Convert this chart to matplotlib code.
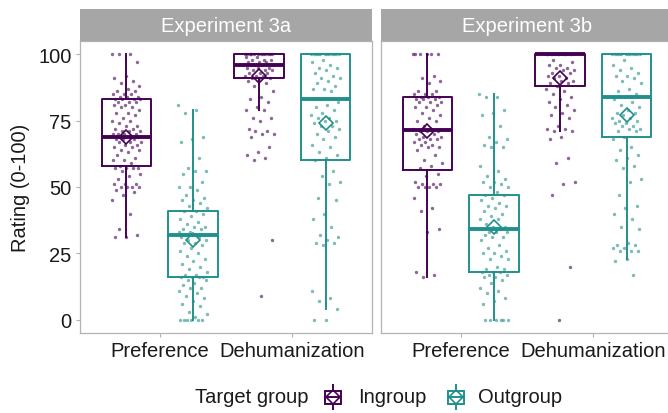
import numpy as np
import matplotlib.pyplot as plt
from matplotlib.patches import Rectangle
from matplotlib.lines import Line2D

plt.rcParams['font.family'] = ['Liberation Sans', 'DejaVu Sans']

experiments = ["Experiment 3a", "Experiment 3b"]
measures = ["Preference", "Dehumanization"]
groups = ["Ingroup", "Outgroup"]
colors = ["#440154", "#21908C"]

# individual ratings, Experiment 3a
pref_in_3a = [100, 100, 100, 97, 92, 91, 90, 89, 88, 87, 86, 86, 85, 85, 85, 84, 84, 84, 83, 83,
              83, 83, 82, 82, 82, 81, 81, 80, 80, 79, 78, 78, 77, 76, 75, 75, 74, 73, 73, 72,
              72, 71, 71, 71, 70, 70, 70, 70, 69, 69, 69, 69, 68, 68, 68, 67, 67, 67, 66, 66,
              65, 65, 64, 64, 63, 62, 61, 60, 60, 59, 58, 57, 57, 57, 57, 56, 55, 54, 53, 51,
              51, 51, 50, 50, 50, 50, 49, 48, 47, 45, 40, 34, 32, 31, 31]
pref_out_3a = [81, 79, 78, 69, 68, 67, 61, 57, 56, 56, 55, 52, 50, 50, 49, 47, 46, 45, 45, 44,
               43, 42, 41, 41, 40, 39, 38, 37, 36, 35, 35, 34, 34, 33, 33, 32, 32, 32, 32, 31,
               31, 30, 30, 29, 29, 28, 27, 26, 25, 24, 23, 22, 21, 20, 19, 18, 17, 17, 16, 16,
               16, 16, 15, 15, 14, 13, 12, 12, 11, 10, 9, 8, 7, 6, 5, 3, 2, 1, 0, 0,
               0, 0, 0, 0]
dehum_in_3a = [100, 100, 100, 100, 100, 100, 100, 100, 100, 100, 100, 100, 99, 99, 98, 98, 98, 97,
               97, 97, 96, 96, 96, 96, 95, 95, 95, 94, 94, 94, 93, 93, 93, 92, 92, 92, 91, 91,
               91, 90, 89, 88, 86, 84, 83, 82, 80, 79, 79, 76, 76, 75, 72, 71, 71, 70, 70, 69,
               65, 63, 62, 61, 60, 30, 9]
dehum_out_3a = [100, 100, 100, 100, 100, 100, 100, 100, 100, 100, 100, 100, 98, 97, 96, 95, 95,
                94, 93, 92, 91, 91, 90, 89, 88, 87, 87, 86, 83, 82, 81, 80, 79, 78, 77, 76, 76,
                75, 75, 74, 73, 73, 72, 71, 70, 69, 68, 66, 65, 63, 62, 61, 60, 56, 54, 52, 51,
                46, 45, 40, 38, 35, 32, 31, 30, 29, 29, 28, 11, 8, 7, 4, 0, 0]

# individual ratings, Experiment 3b
pref_in_3b = [100, 100, 100, 100, 100, 100, 92, 91, 90, 89, 86, 86, 85, 85, 85, 84, 84, 84, 83, 83,
              83, 82, 82, 82, 81, 80, 80, 79, 78, 77, 76, 75, 75, 73, 72, 72, 71, 71, 71, 70,
              70, 69, 69, 68, 68, 68, 67, 67, 66, 66, 65, 65, 64, 62, 60, 59, 58, 57, 55, 54,
              52, 51, 51, 51, 50, 50, 50, 50, 46, 42, 41, 34, 33, 18, 17, 16]
pref_out_3b = [85, 84, 84, 79, 78, 77, 73, 69, 68, 67, 66, 65, 65, 58, 56, 54, 53, 52, 52, 51,
               50, 50, 48, 47, 47, 46, 45, 44, 43, 43, 42, 41, 40, 39, 38, 38, 36, 35, 35, 34,
               34, 33, 33, 33, 32, 31, 31, 30, 28, 27, 26, 25, 25, 24, 23, 23, 20, 19, 19, 18,
               18, 18, 17, 17, 16, 16, 15, 14, 12, 11, 10, 8, 7, 6, 0, 0, 0, 0, 0, 0]
dehum_in_3b = [100, 100, 100, 100, 100, 100, 100, 100, 100, 100, 100, 100, 100, 100, 100, 98, 97,
               96, 96, 95, 95, 94, 94, 93, 93, 92, 92, 91, 91, 90, 90, 89, 89, 88, 87, 86, 85,
               84, 83, 82, 81, 80, 79, 78, 77, 76, 73, 72, 72, 71, 71, 69, 68, 61, 59, 52, 51,
               47, 20, 0]
dehum_out_3b = [100, 100, 100, 100, 100, 100, 100, 100, 100, 100, 100, 100, 98, 96, 95, 94, 93,
                92, 92, 91, 90, 89, 87, 86, 85, 84, 83, 82, 81, 80, 79, 78, 78, 77, 76, 76, 75,
                75, 74, 74, 73, 73, 72, 72, 71, 71, 69, 68, 65, 64, 62, 61, 60, 58, 57, 53, 52,
                47, 43, 42, 40, 38, 35, 34, 29, 28, 28, 27, 27, 26, 26, 26, 23, 22, 17]

points = [
    [pref_in_3a, pref_out_3a, dehum_in_3a, dehum_out_3a],
    [pref_in_3b, pref_out_3b, dehum_in_3b, dehum_out_3b],
]

# box summaries, order: Pref-In, Pref-Out, Dehum-In, Dehum-Out
q1_3a = [58, 16, 91, 60]
med_3a = [69, 32, 96, 83]
q3_3a = [83, 41, 100, 100]
lo_3a = [31, 0, 79, 4]
hi_3a = [100, 79, 100, 100]
mean_3a = [69, 30, 92, 74]

q1_3b = [56.5, 18, 88, 69]
med_3b = [71.5, 34, 100, 84]
q3_3b = [84, 47, 100, 100]
lo_3b = [16, 0, 71, 23]
hi_3b = [100, 85, 100, 100]
mean_3b = [71, 35, 91, 77]

summaries = [
    (q1_3a, med_3a, q3_3a, lo_3a, hi_3a, mean_3a),
    (q1_3b, med_3b, q3_3b, lo_3b, hi_3b, mean_3b),
]


def jitter(n, width=0.11):
    # evenly spread horizontal offsets (golden-ratio sequence)
    return ((np.arange(n) * 0.6180339887) % 1.0 - 0.5) * 2 * width


W, H = 668, 414
fig = plt.figure(figsize=(W / 100, H / 100), dpi=100)
panel_left = [80, 381]
panel_w = 292
panel_top, panel_bot = 42, 334
strip_top = 10

for k, exp in enumerate(experiments):
    ax = fig.add_axes([panel_left[k] / W, 1 - panel_bot / H, panel_w / W, (panel_bot - panel_top) / H])
    q1, med, q3, lo, hi, mn = summaries[k]
    for m in range(2):
        for g in range(2):
            i = m * 2 + g
            c = colors[g]
            pos = m + 1 + (-0.25 if g == 0 else 0.25)
            st = dict(med=med[i], q1=q1[i], q3=q3[i], whislo=lo[i], whishi=hi[i], mean=mn[i])
            vals = np.array(points[k][i], dtype=float)
            ax.scatter(pos + jitter(len(vals)), vals, s=6, color=c, alpha=0.6, lw=0, zorder=2)
            ax.bxp([st], positions=[pos], widths=0.375, showfliers=False, showcaps=False,
                   showmeans=True,
                   boxprops=dict(color=c, lw=1.4),
                   whiskerprops=dict(color=c, lw=1.4),
                   medianprops=dict(color=c, lw=2.8),
                   meanprops=dict(marker='D', markersize=7, markerfacecolor='none',
                                  markeredgecolor=c, markeredgewidth=1.2),
                   zorder=3)
    ax.set_xlim(0.4, 2.6)
    ax.set_ylim(-5, 105)
    ax.set_xticks([1, 2])
    ax.set_xticklabels(measures, fontsize=14.5, color='#1a1a1a')
    ax.set_yticks([0, 25, 50, 75, 100])
    ax.tick_params(axis='both', color='#b3b3b3', length=3, width=0.8, pad=3)
    if k == 0:
        ax.set_yticklabels(['0', '25', '50', '75', '100'], fontsize=14.5, color='#1a1a1a')
    else:
        ax.tick_params(axis='y', left=False, labelleft=False)
    for sp in ax.spines.values():
        sp.set_color('#b3b3b3')
        sp.set_linewidth(0.9)

    # facet strip
    sax = fig.add_axes([panel_left[k] / W, 1 - panel_top / H, panel_w / W, (panel_top - strip_top) / H])
    sax.set_facecolor('#a6a6a6')
    sax.set_xticks([])
    sax.set_yticks([])
    for sp in sax.spines.values():
        sp.set_visible(False)
    sax.text(0.5, 0.47, exp, transform=sax.transAxes, ha='center', va='center',
             color='white', fontsize=14.5)

fig.text(21 / W, 1 - 188 / H, "Rating (0-100)", rotation=90, ha='center', va='center',
         fontsize=14.5, color='#1a1a1a')

# legend drawn along the bottom
leg_y = 1 - 398 / H
fig.text(195 / W, leg_y, "Target group", ha='left', va='center', fontsize=14.5, color='#1a1a1a')
key_x = [324, 447]
text_x = [358, 478]
for g in range(2):
    c = colors[g]
    kax = fig.add_axes([key_x[g] / W, 1 - 411 / H, 18 / W, 26 / H])
    kax.set_xlim(0, 1)
    kax.set_ylim(0, 1)
    kax.axis('off')
    kax.add_patch(Rectangle((0.05, 0.25), 0.9, 0.5, fill=False, edgecolor=c, lw=1.4))
    kax.add_line(Line2D([0.5, 0.5], [0.0, 0.25], color=c, lw=1.4))
    kax.add_line(Line2D([0.5, 0.5], [0.75, 1.0], color=c, lw=1.4))
    kax.add_line(Line2D([0.05, 0.95], [0.5, 0.5], color=c, lw=1.4))
    kax.plot([0.5], [0.5], marker='D', markersize=7, markerfacecolor='none',
             markeredgecolor=c, markeredgewidth=1.2)
    fig.text(text_x[g] / W, leg_y, groups[g], ha='left', va='center', fontsize=14.5, color='#1a1a1a')

fig.savefig("out.png", dpi=100)
